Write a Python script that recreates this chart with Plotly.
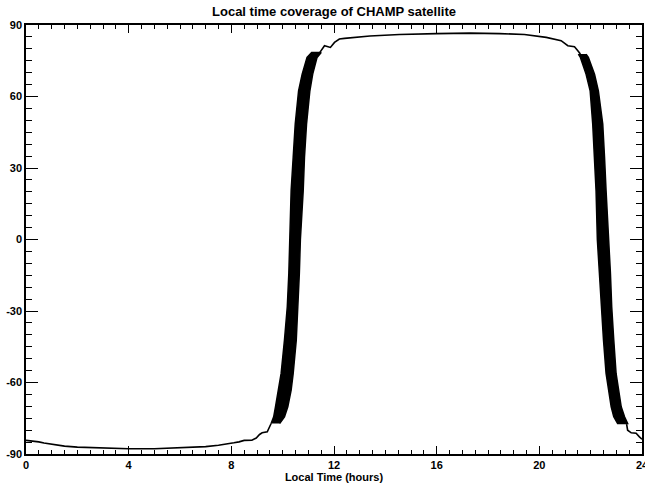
import plotly.graph_objects as go

# ---- data (local time in hours, latitude in degrees) ----
bottom_lt = [0.0, 0.3, 0.5, 0.7, 1.0, 1.5, 2.0, 3.0, 4.0, 5.0, 6.0, 6.5, 7.0, 7.5, 7.8,
             8.1, 8.3, 8.5, 8.8, 8.97, 9.1, 9.2, 9.4, 9.55]
bottom_lat = [-84.3, -84.6, -84.9, -85.4, -86.0, -86.7, -87.1, -87.6, -87.8, -87.8, -87.5,
              -87.3, -86.9, -86.3, -85.9, -85.3, -84.9, -84.3, -84.2, -83.3, -81.8, -81.1,
              -80.7, -77.2]

asc_lat = [-77.2, -74.4, -70.2, -63.2, -56.2, -42.2, -28.2, -14.2, 0.0, 20.5, 34.5, 48.5,
           62.4, 69.4, 76.4, 78.5]
asc_lt_left = [9.55, 9.65, 9.72, 9.84, 9.94, 10.07, 10.18, 10.24, 10.28, 10.33, 10.41, 10.49,
               10.62, 10.76, 10.95, 11.13]
asc_lt_right = [9.88, 10.07, 10.20, 10.33, 10.41, 10.53, 10.60, 10.65, 10.69, 10.80, 10.85,
                10.93, 11.06, 11.17, 11.34, 11.50]

top_lt = [11.45, 11.55, 11.63, 11.86, 12.02, 12.21, 12.41, 13.4, 14.55, 16.0, 17.3, 18.45,
          19.2, 19.42, 20.27, 20.52, 20.85, 21.11, 21.37, 21.5, 21.6]
top_lat = [78.5, 80.0, 81.3, 80.6, 82.7, 84.1, 84.4, 85.4, 86.0, 86.4, 86.6, 86.4, 86.0,
           86.0, 84.8, 84.1, 83.4, 81.3, 80.9, 79.2, 77.8]

desc_lat = [77.8, 76.4, 69.4, 62.4, 48.5, 34.5, 20.5, 0.0, -14.2, -28.2, -42.2, -56.2,
            -63.2, -70.2, -74.4, -77.2]
desc_lt_left = [21.52, 21.60, 21.82, 21.98, 22.08, 22.15, 22.21, 22.26, 22.34, 22.41, 22.50,
                22.60, 22.69, 22.80, 22.90, 23.05]
desc_lt_right = [21.82, 21.91, 22.15, 22.30, 22.47, 22.54, 22.60, 22.69, 22.77, 22.82, 22.90,
                 22.99, 23.08, 23.19, 23.32, 23.44]

tail_lt = [23.40, 23.44, 23.58, 23.77, 23.90, 24.0]
tail_lat = [-77.5, -80.0, -81.1, -81.3, -82.8, -83.8]

x_ticks = [0, 4, 8, 12, 16, 20, 24]
y_ticks = [-90, -60, -30, 0, 30, 60, 90]

FONT = "Liberation Sans"
fig = go.Figure()

line_style = dict(color="black", width=1.6)
band_line = dict(color="black", width=1.5)
fig.add_trace(go.Scatter(x=bottom_lt, y=bottom_lat, mode="lines", line=line_style))
fig.add_trace(go.Scatter(x=asc_lt_left + asc_lt_right[::-1], y=asc_lat + asc_lat[::-1],
                         mode="lines", fill="toself", fillcolor="black", line=band_line))
fig.add_trace(go.Scatter(x=top_lt, y=top_lat, mode="lines", line=line_style))
fig.add_trace(go.Scatter(x=desc_lt_left + desc_lt_right[::-1], y=desc_lat + desc_lat[::-1],
                         mode="lines", fill="toself", fillcolor="black", line=band_line))
fig.add_trace(go.Scatter(x=tail_lt, y=tail_lat, mode="lines", line=line_style))

fig.update_layout(
    width=645, height=483,
    margin=dict(l=26, r=3, t=25, b=29),
    paper_bgcolor="white", plot_bgcolor="white",
    showlegend=False,
    title=dict(text="Local time coverage of CHAMP satellite",
               font=dict(family=FONT, size=13, color="black", weight="bold"),
               x=0.5, xref="paper", xanchor="center",
               y=1 - 11 / 483, yref="container", yanchor="middle"),
)
fig.update_xaxes(
    range=[0, 24], tickvals=x_ticks, ticktext=[str(v) for v in x_ticks],
    showgrid=False, zeroline=False, ticklabeloverflow="allow", automargin=False,
    showline=True, linecolor="black", linewidth=1.5, mirror="ticks",
    ticks="inside", ticklen=8.5, tickwidth=1.2, tickcolor="black",
    minor=dict(dtick=0.5, ticks="inside", ticklen=4.3, tickwidth=1, tickcolor="black", showgrid=False),
    tickfont=dict(family=FONT, size=11, color="black", weight="bold"),
    title=dict(text="Local Time (hours)", standoff=0,
               font=dict(family=FONT, size=11, color="black", weight="bold")),
)
fig.update_yaxes(
    range=[-90, 90], tickvals=y_ticks, ticktext=[str(v) for v in y_ticks],
    showgrid=False, zeroline=False, ticklabeloverflow="allow", automargin=False,
    showline=True, linecolor="black", linewidth=1.5, mirror="ticks",
    ticks="inside", ticklen=12, tickwidth=1.2, tickcolor="black",
    minor=dict(dtick=5, ticks="inside", ticklen=6, tickwidth=1, tickcolor="black", showgrid=False),
    tickfont=dict(family=FONT, size=11, color="black", weight="bold"),
)

fig.write_html("out.html")
